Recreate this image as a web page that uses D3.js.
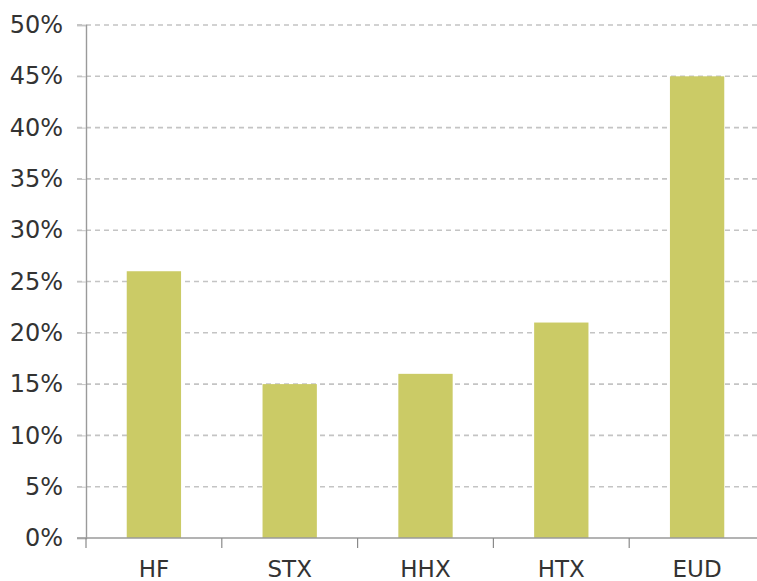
<!DOCTYPE html>
<html>
<head>
<meta charset="utf-8">
<script src="https://cdn.jsdelivr.net/npm/d3@7"></script>
<style>
  body { margin: 0; background: #fff; }
  text { font-family: "DejaVu Sans", Verdana, sans-serif; fill: #333; }
</style>
</head>
<body>
<div id="container"></div>
<script>
const categories = ["HF", "STX", "HHX", "HTX", "EUD"]
const values = [26, 15, 16, 21, 45]
const yTicks = [0, 5, 10, 15, 20, 25, 30, 35, 40, 45, 50]

const margin = { top: 25, right: -8, bottom: 43, left: 86 }
const W = 757, H = 581
const width = W - margin.left - margin.right
const height = H - margin.top - margin.bottom

const svg = d3.select("#container")
    .append("svg")
    .attr("width", W)
    .attr("height", H)
    .append("g")
    .attr("transform", "translate(" + margin.left + "," + margin.top + ")")

const x = d3.scaleBand()
    .domain(categories)
    .range([0, width])
    .paddingInner(0.6)
    .paddingOuter(0.3)

const y = d3.scaleLinear()
    .domain([0, 50])
    .range([height, 0])

// gridlines
svg.append("g")
    .selectAll("line")
    .data(yTicks.filter(d => d > 0))
    .enter()
    .append("line")
    .attr("x1", -9)
    .attr("x2", width)
    .attr("y1", d => y(d))
    .attr("y2", d => y(d))
    .attr("stroke", "#c4c4c4")
    .attr("stroke-width", 1.6)
    .attr("stroke-dasharray", "5,4")

// bars
svg.append("g")
    .selectAll("rect")
    .data(values)
    .enter()
    .append("rect")
    .attr("x", (d, i) => x(categories[i]))
    .attr("y", d => y(d))
    .attr("width", x.bandwidth())
    .attr("height", d => height - y(d))
    .attr("fill", "#cbcb66")

// y axis
const yAxis = svg.append("g")
    .call(d3.axisLeft(y).tickValues(yTicks).tickFormat(d => d + "%").tickSize(9).tickPadding(14))
yAxis.select(".domain").attr("stroke", "#9a9a9a").attr("stroke-width", 1.4)
yAxis.selectAll(".tick line").attr("stroke", "#c4c4c4")
yAxis.selectAll(".tick text").style("font-size", "24px").attr("fill", "#333")

// x axis with ticks at band edges
const xg = svg.append("g").attr("transform", "translate(0," + height + ")")
xg.append("line")
    .attr("x1", -9).attr("x2", width)
    .attr("stroke", "#9a9a9a").attr("stroke-width", 1.6)
const step = x.step()
xg.selectAll(".sep")
    .data(d3.range(categories.length))
    .enter()
    .append("line")
    .attr("x1", i => i * step)
    .attr("x2", i => i * step)
    .attr("y1", 0).attr("y2", 10)
    .attr("stroke", "#8a8a8a").attr("stroke-width", 1.2)
xg.selectAll(".lbl")
    .data(categories)
    .enter()
    .append("text")
    .attr("x", d => x(d) + x.bandwidth() / 2)
    .attr("y", 39)
    .attr("text-anchor", "middle")
    .style("font-size", "23px")
    .text(d => d)
</script>
</body>
</html>
